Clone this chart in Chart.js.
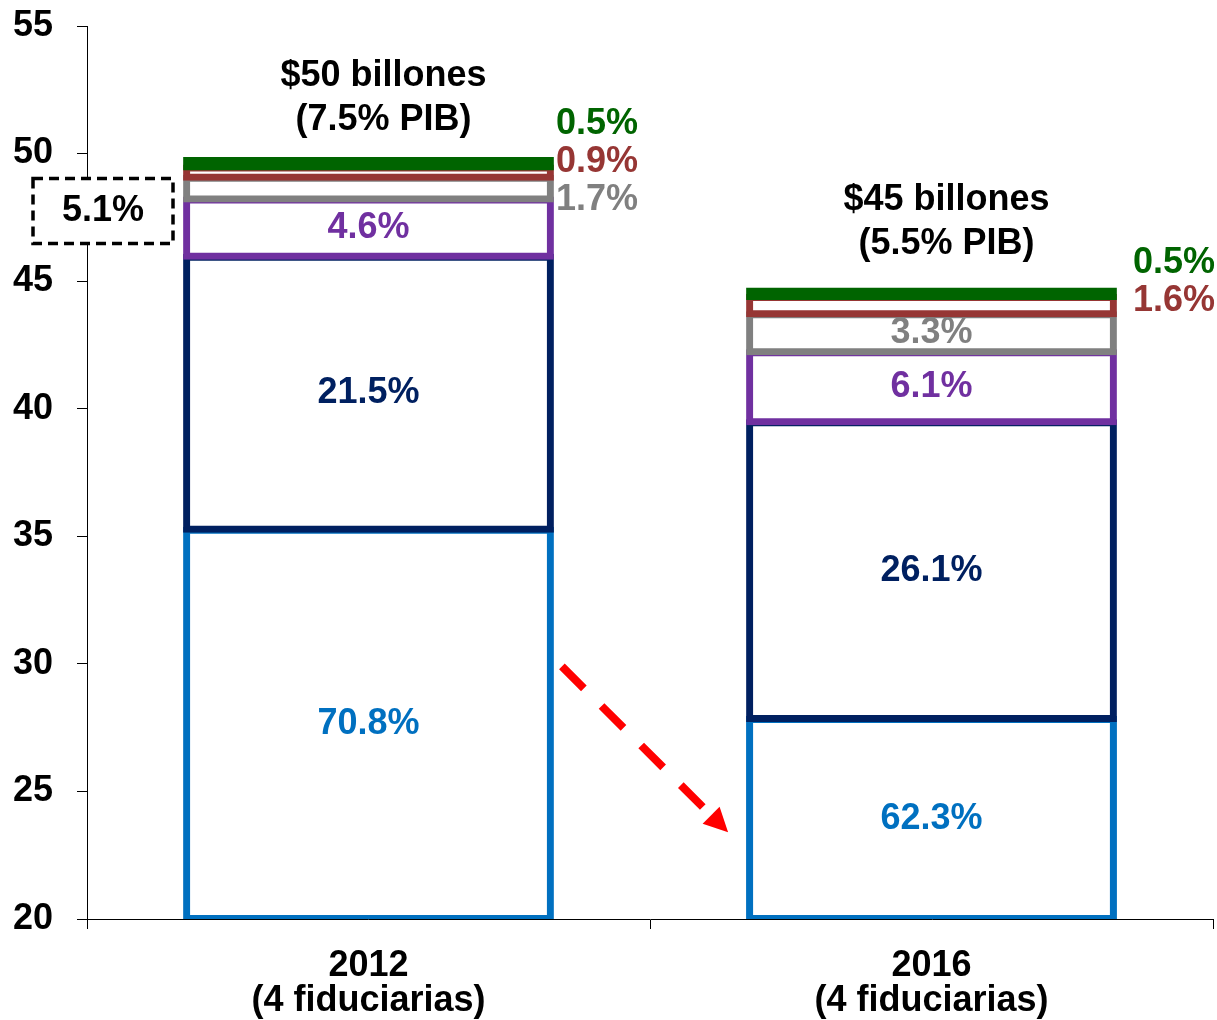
<!DOCTYPE html>
<html>
<head>
<meta charset="utf-8">
<script src="https://cdn.jsdelivr.net/npm/chart.js@4.4.1/dist/chart.umd.min.js"></script>
<style>
    html, body { margin: 0; padding: 0; background: #fff; }
    #wrap { width: 1217px; height: 1020px; }
</style>
</head>
<body>
<div id="wrap"><canvas id="barChart"></canvas></div>
<script>
// Categorías y textos
const categories = [['2012', '(4 fiduciarias)'], ['2016', '(4 fiduciarias)']];
const totalLines = [['$50 billones', '(7.5% PIB)'], ['$45 billones', '(5.5% PIB)']];
const yTicks = [20, 25, 30, 35, 40, 45, 50, 55];
const boxLabel = '5.1%';

// Segmentos de abajo hacia arriba (billones)
const seg1 = [35.26, 27.84];
const seg2 = [10.70, 11.63];
const seg3 = [2.24, 2.74];
const seg4 = [0.85, 1.49];
const seg5 = [0.40, 0.68];
const seg6 = [0.30, 0.25];

// Participaciones
const pct1 = ['70.8%', '62.3%'];
const pct2 = ['21.5%', '26.1%'];
const pct3 = ['4.6%', '6.1%'];
const pct4 = ['1.7%', '3.3%'];
const pct5 = ['0.9%', '1.6%'];
const pct6 = ['0.5%', '0.5%'];

const segValues = [seg1, seg2, seg3, seg4, seg5, seg6];
const segPcts = [pct1, pct2, pct3, pct4, pct5, pct6];
const segColors = ['#0070C0', '#002060', '#7030A0', '#808080', '#963634', '#006400'];

const FONT_FAMILY = '"Liberation Sans", Arial, sans-serif';
const FONT = 'bold 36px ' + FONT_FAMILY;
const Y_MIN = yTicks[0];

document.addEventListener('DOMContentLoaded', function() {
    initializeChart();
});

function buildDatasets() {
    const tops = categories.map(() => 0);
    const last = segValues.length - 1;
    return segValues.map((vals, i) => {
        const data = vals.map((v, j) => {
            const start = tops[j];
            tops[j] += v;
            return [Math.max(start, Y_MIN), start + v];
        });
        return {
            label: 'seg' + (i + 1),
            data: data,
            // la franja superior es tan delgada que va rellena
            backgroundColor: i === last ? segColors[i] : 'rgba(255,255,255,0)',
            borderColor: segColors[i],
            borderWidth: 1,
            inflateAmount: 3,
            borderSkipped: false,
            grouped: false,
            order: segValues.length - i,
            barPercentage: 0.648,
            categoryPercentage: 1
        };
    });
}

// Etiquetas, flecha y recuadro
const annotations = {
    id: 'annotations',
    afterDatasetsDraw(chart) {
        const ctx = chart.ctx;
        const y = chart.scales.y;
        const metas = segValues.map((s, i) => chart.getDatasetMeta(i));
        const outsideGap = [5, 19];
        const outsideShift = [-1, 7];
        const totalShift = [5, -2];

        ctx.save();
        ctx.font = FONT;
        ctx.textBaseline = 'middle';

        categories.forEach((cat, j) => {
            const bars = metas.map(m => m.data[j]);
            const top = bars[bars.length - 1].y;
            const cx = bars[0].x;
            const right = cx + bars[0].width / 2;

            ctx.fillStyle = '#000';
            ctx.textAlign = 'center';
            ctx.fillText(totalLines[j][0], cx + 15, top - 89 + totalShift[j]);
            ctx.fillText(totalLines[j][1], cx + 15, top - 45 + totalShift[j]);

            let k = 0;
            for (let i = bars.length - 1; i >= 0; i--) {
                const b = bars[i];
                const h = b.base - b.y;
                ctx.fillStyle = segColors[i];
                if (h < 30) {
                    ctx.textAlign = 'left';
                    ctx.fillText(segPcts[i][j], right + outsideGap[j], top - 35 + outsideShift[j] + 38 * k);
                    k++;
                } else {
                    ctx.textAlign = 'center';
                    ctx.fillText(segPcts[i][j], b.x, (b.y + b.base) / 2);
                }
            }
        });

        // flecha roja punteada
        const b0 = metas[0].data[0];
        const b1 = metas[0].data[1];
        const x0 = b0.x + b0.width / 2 + 11;
        const y0 = y.getPixelForValue(29.9);
        const x1 = b1.x - b1.width / 2 - 21;
        const y1 = y.getPixelForValue(23.4);
        const len = Math.hypot(x1 - x0, y1 - y0);
        const ux = (x1 - x0) / len, uy = (y1 - y0) / len;
        const headLen = 24, headHalf = 12;
        const bx = x1 - ux * headLen, by = y1 - uy * headLen;

        ctx.strokeStyle = '#FF0000';
        ctx.fillStyle = '#FF0000';
        ctx.lineWidth = 8;
        ctx.lineCap = 'butt';
        ctx.setLineDash([31, 25]);
        ctx.beginPath();
        ctx.moveTo(x0, y0);
        ctx.lineTo(bx, by);
        ctx.stroke();
        ctx.setLineDash([]);
        ctx.beginPath();
        ctx.moveTo(x1, y1);
        ctx.lineTo(bx - uy * headHalf, by + ux * headHalf);
        ctx.lineTo(bx + uy * headHalf, by - ux * headHalf);
        ctx.closePath();
        ctx.fill();

        ctx.restore();
    },
    afterDraw(chart) {
        const ctx = chart.ctx;
        const y = chart.scales.y;
        const left = chart.chartArea.left - 54;
        const cy = y.getPixelForValue(47.75);
        const w = 140, h = 65;

        ctx.save();
        ctx.fillStyle = '#fff';
        ctx.fillRect(left, cy - h / 2, w, h);
        ctx.strokeStyle = '#000';
        ctx.lineWidth = 3.5;
        ctx.setLineDash([10, 6]);
        ctx.strokeRect(left, cy - h / 2, w, h);
        ctx.setLineDash([]);
        ctx.font = FONT;
        ctx.fillStyle = '#000';
        ctx.textAlign = 'center';
        ctx.textBaseline = 'middle';
        ctx.fillText(boxLabel, left + w / 2, cy);
        ctx.restore();
    }
};

function initializeChart() {
    const ctx = document.getElementById('barChart').getContext('2d');
    const tickFont = { family: FONT_FAMILY, size: 36, weight: 'bold' };

    new Chart(ctx, {
        type: 'bar',
        data: {
            labels: categories,
            datasets: buildDatasets()
        },
        options: {
            responsive: true,
            maintainAspectRatio: false,
            animation: false,
            layout: {
                padding: { top: 26, right: 4, left: 0, bottom: 0 }
            },
            scales: {
                x: {
                    grid: {
                        drawOnChartArea: false,
                        drawTicks: true,
                        tickLength: 10,
                        color: '#000',
                        offset: true
                    },
                    border: { color: '#000', width: 1 },
                    ticks: {
                        color: '#000',
                        font: { family: FONT_FAMILY, size: 36, weight: 'bold', lineHeight: 0.97 },
                        padding: 20,
                        maxRotation: 0,
                        autoSkip: false
                    },
                    afterFit(scale) {
                        scale.height = 101;
                        scale.paddingLeft = 0;
                        scale.paddingRight = 0;
                    }
                },
                y: {
                    min: yTicks[0],
                    max: yTicks[yTicks.length - 1],
                    afterBuildTicks(scale) {
                        scale.ticks = yTicks.map(v => ({ value: v }));
                    },
                    ticks: {
                        color: '#000',
                        font: tickFont,
                        padding: 24
                    },
                    grid: {
                        drawOnChartArea: false,
                        tickLength: 10,
                        color: '#000'
                    },
                    border: { color: '#000', width: 1 },
                    afterFit(scale) {
                        scale.width = 87;
                        scale.paddingTop = 0;
                        scale.paddingBottom = 0;
                    }
                }
            },
            plugins: {
                legend: { display: false },
                tooltip: { enabled: false }
            }
        },
        plugins: [annotations]
    });
}
</script>
</body>
</html>
